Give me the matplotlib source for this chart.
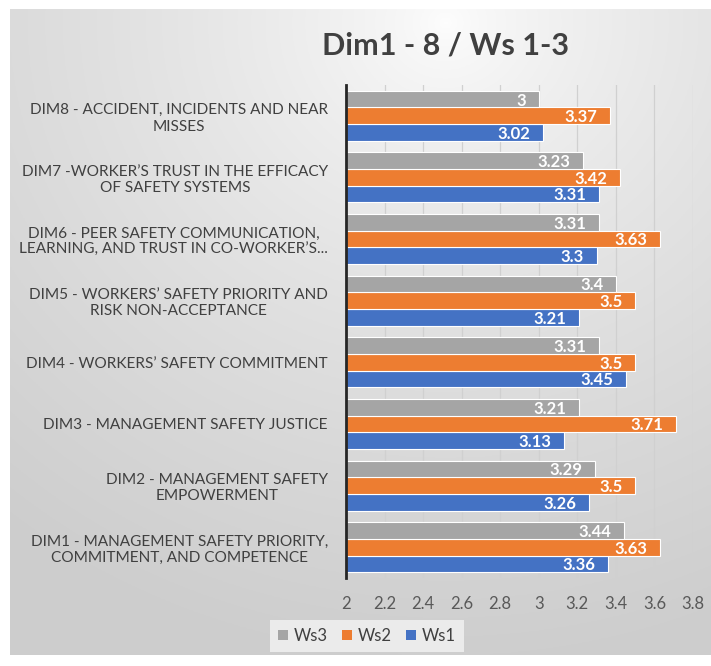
import numpy as np
import matplotlib.pyplot as plt

# Datos (de abajo hacia arriba: DIM1 ... DIM8)
categorias = [
    "DIM1 - MANAGEMENT SAFETY PRIORITY,\nCOMMITMENT, AND COMPETENCE",
    "DIM2 - MANAGEMENT SAFETY\nEMPOWERMENT",
    "DIM3 - MANAGEMENT SAFETY JUSTICE",
    "DIM4 - WORKERS\u2019 SAFETY COMMITMENT",
    "DIM5 - WORKERS\u2019 SAFETY PRIORITY AND\nRISK NON-ACCEPTANCE",
    "DIM6 - PEER SAFETY COMMUNICATION,\nLEARNING, AND TRUST IN CO-WORKER\u2019S...",
    "DIM7 -WORKER\u2019S TRUST IN THE EFFICACY\nOF SAFETY SYSTEMS",
    "DIM8 - ACCIDENT, INCIDENTS AND NEAR\nMISSES",
]
ws1 = [3.36, 3.26, 3.13, 3.45, 3.21, 3.30, 3.31, 3.02]
ws2 = [3.63, 3.50, 3.71, 3.50, 3.50, 3.63, 3.42, 3.37]
ws3 = [3.44, 3.29, 3.21, 3.31, 3.40, 3.31, 3.23, 3.00]
ticks_x = [2, 2.2, 2.4, 2.6, 2.8, 3, 3.2, 3.4, 3.6, 3.8]
etiquetas_x = ["2", "2.2", "2.4", "2.6", "2.8", "3", "3.2", "3.4", "3.6", "3.8"]

plt.rcParams['font.family'] = ['Lato', 'DejaVu Sans']

fig = plt.figure(figsize=(7.11, 6.66), dpi=100)

# Fondo con degradado radial
bg = fig.add_axes([10/711, 11/666, 1 - 10/711, 1 - 20/666], zorder=-10)
ny, nx = 300, 320
yy, xx = np.mgrid[0:ny, 0:nx]
cx, cy = nx * 0.62, ny * 0.02
r = np.sqrt(((xx - cx) / nx) ** 2 + ((yy - cy) / ny) ** 2)
r = np.clip(r, 0, 1)
g = 0.995 - 0.19 * r ** 0.7
bg.imshow(np.dstack([g, g, g]), aspect='auto', extent=[0, 1, 0, 1])
bg.axis('off')

ax = fig.add_axes([346/711, 1 - 578/666, 347/711, 493/666])
ax.patch.set_alpha(0)

y = np.arange(len(categorias))
h = 0.27
series = [(ws1, -h, '#4472C4', 'Ws1'), (ws2, 0, '#ED7D31', 'Ws2'), (ws3, h, '#A5A5A5', 'Ws3')]
handles = {}
for vals, off, col, nom in series:
    bars = ax.barh(y + off, np.array(vals) - 2, left=2, height=h, color=col,
                   edgecolor='white', linewidth=0.8, label=nom, zorder=3)
    handles[nom] = bars
    for yi, v in zip(y + off, vals):
        ax.annotate(f"{v:g}", (v, yi), xytext=(-9, -1), textcoords='offset points',
                    ha='right', va='center', color='white', fontsize=12,
                    fontweight='bold', zorder=4)

ax.set_xlim(2, 3.8)
ax.set_ylim(-0.5, len(categorias) - 0.5)
ax.set_xticks(ticks_x)
ax.set_xticklabels(etiquetas_x, fontsize=12, color='#595959')
ax.set_yticks(y)
ax.set_yticklabels(categorias, fontsize=11.1, color='#404040', multialignment='center')
ax.tick_params(axis='both', length=0)
ax.tick_params(axis='x', pad=13)
ax.tick_params(axis='y', pad=13)
ax.grid(axis='x', color='#D0D0D0', linewidth=0.9, zorder=0)
for s in ['top', 'right', 'bottom']:
    ax.spines[s].set_visible(False)
ax.spines['left'].set_color('#262626')
ax.spines['left'].set_linewidth(2)
ax.spines['left'].set_zorder(5)

fig.text(446/711, 1 - 45/666, "Dim1 - 8 / Ws 1-3", ha='center', va='center',
         fontsize=22, fontweight='bold', color='#404040')

leg = fig.legend([handles['Ws3'], handles['Ws2'], handles['Ws1']], ['Ws3', 'Ws2', 'Ws1'],
                 loc='center', bbox_to_anchor=(367/711, 1 - 636/666), ncol=3,
                 frameon=True, fontsize=12, handlelength=0.6, handleheight=0.6,
                 handletextpad=0.3, columnspacing=0.9, borderpad=0.5)
leg.get_frame().set_facecolor('#EFEFEF')
leg.get_frame().set_edgecolor('none')
leg.get_frame().set_alpha(0.9)
leg.get_frame().set_boxstyle('square', pad=0)
for t in leg.get_texts():
    t.set_color('#404040')
for p in leg.legend_handles:
    p.set_edgecolor('none')

fig.savefig('out.png', dpi=100, facecolor='white')
